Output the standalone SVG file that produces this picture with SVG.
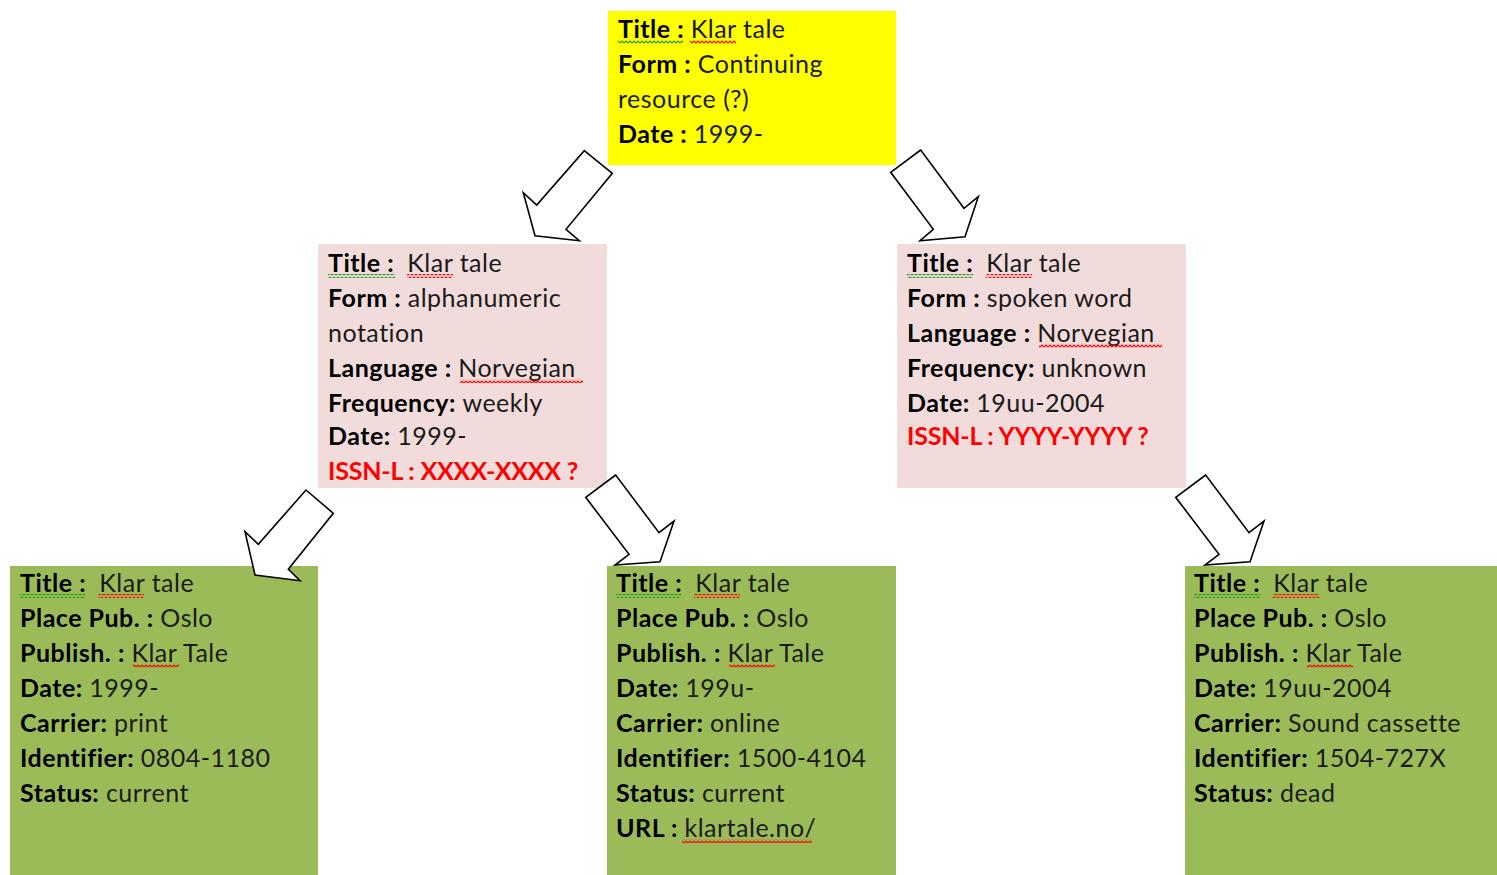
<svg xmlns="http://www.w3.org/2000/svg" width="1497" height="875" viewBox="0 0 1497 875">
<style>
text{font-family:Lato,"Open Sans","Liberation Sans",sans-serif;font-size:25px;letter-spacing:0.5px;fill:#1a1a1a}
.b{font-weight:bold;fill:#000}
.red{fill:#ff0000;font-weight:bold;letter-spacing:-0.2px}
.arrow{fill:#fff;stroke:#000;stroke-width:1.6;stroke-linejoin:miter}
.wg{fill:url(#wg)}
.wr{fill:url(#wr)}
</style>
<defs>
<pattern id="wg" patternUnits="userSpaceOnUse" width="4" height="4"><path d="M0 3 L2 1 L4 3" fill="none" stroke="#1f9a1f" stroke-width="1.2"/></pattern>
<pattern id="wr" patternUnits="userSpaceOnUse" width="4" height="4"><path d="M0 3 L2 1 L4 3" fill="none" stroke="#ff0000" stroke-width="1.2"/></pattern>
</defs>
<rect width="1497" height="875" fill="#fff"/>

<g id="top">
<rect x="608" y="11" width="288" height="154" fill="#ffff00"/>
<text x="618" y="38" xml:space="preserve"><tspan class="b">Title : </tspan>Klar tale</text>
<text x="618" y="73" xml:space="preserve"><tspan class="b">Form : </tspan>Continuing</text>
<text x="618" y="108">resource (?)</text>
<text x="618" y="143" xml:space="preserve"><tspan class="b">Date : </tspan>1999-</text>
<rect class="wg" x="618" y="40" width="65" height="4"/>
<rect class="wr" x="690" y="40" width="46" height="4"/>
</g>

<g id="mid-left">
<rect x="318" y="244" width="289" height="244" fill="#f2dcdb"/>
<text x="328" y="272" xml:space="preserve"><tspan class="b">Title :  </tspan>Klar tale</text>
<text x="328" y="307" xml:space="preserve"><tspan class="b">Form : </tspan>alphanumeric</text>
<text x="328" y="342">notation</text>
<text x="328" y="377" xml:space="preserve"><tspan class="b">Language : </tspan>Norvegian</text>
<text x="328" y="412" xml:space="preserve"><tspan class="b">Frequency: </tspan>weekly</text>
<text x="328" y="445" xml:space="preserve"><tspan class="b">Date: </tspan>1999-</text>
<text x="328" y="480" class="red">ISSN-L : XXXX-XXXX ?</text>
<rect class="wg" x="328" y="274" width="67" height="4"/>
<rect class="wr" x="407" y="274" width="46" height="4"/>
<rect class="wr" x="460" y="379" width="123" height="4"/>
</g>

<g id="mid-right">
<rect x="897" y="244" width="289" height="244" fill="#f2dcdb"/>
<text x="907" y="272" xml:space="preserve"><tspan class="b">Title :  </tspan>Klar tale</text>
<text x="907" y="307" xml:space="preserve"><tspan class="b">Form : </tspan>spoken word</text>
<text x="907" y="342" xml:space="preserve"><tspan class="b">Language : </tspan>Norvegian</text>
<text x="907" y="377" xml:space="preserve"><tspan class="b">Frequency: </tspan>unknown</text>
<text x="907" y="412" xml:space="preserve"><tspan class="b">Date: </tspan>19uu-2004</text>
<text x="907" y="445" class="red">ISSN-L : YYYY-YYYY ?</text>
<rect class="wg" x="907" y="274" width="66" height="4"/>
<rect class="wr" x="986" y="274" width="46" height="4"/>
<rect class="wr" x="1039" y="344" width="123" height="4"/>
</g>

<g id="bottom-left">
<rect x="10" y="566" width="308" height="309" fill="#9bbb59"/>
<text x="20" y="592" xml:space="preserve"><tspan class="b">Title :  </tspan>Klar tale</text>
<text x="20" y="627" xml:space="preserve"><tspan class="b">Place Pub. : </tspan>Oslo</text>
<text x="20" y="662" xml:space="preserve"><tspan class="b">Publish. : </tspan>Klar Tale</text>
<text x="20" y="697" xml:space="preserve"><tspan class="b">Date: </tspan>1999-</text>
<text x="20" y="732" xml:space="preserve"><tspan class="b">Carrier: </tspan>print</text>
<text x="20" y="767" xml:space="preserve"><tspan class="b">Identifier: </tspan>0804-1180</text>
<text x="20" y="802" xml:space="preserve"><tspan class="b">Status: </tspan>current</text>
<rect class="wg" x="20" y="594" width="65" height="4"/>
<rect class="wr" x="98" y="594" width="46" height="4"/>
<rect class="wr" x="133" y="664" width="46" height="4"/>
</g>

<g id="bottom-mid">
<rect x="607" y="566" width="289" height="309" fill="#9bbb59"/>
<text x="616" y="592" xml:space="preserve"><tspan class="b">Title :  </tspan>Klar tale</text>
<text x="616" y="627" xml:space="preserve"><tspan class="b">Place Pub. : </tspan>Oslo</text>
<text x="616" y="662" xml:space="preserve"><tspan class="b">Publish. : </tspan>Klar Tale</text>
<text x="616" y="697" xml:space="preserve"><tspan class="b">Date: </tspan>199u-</text>
<text x="616" y="732" xml:space="preserve"><tspan class="b">Carrier: </tspan>online</text>
<text x="616" y="767" xml:space="preserve"><tspan class="b">Identifier: </tspan>1500-4104</text>
<text x="616" y="802" xml:space="preserve"><tspan class="b">Status: </tspan>current</text>
<text x="616" y="837" xml:space="preserve"><tspan class="b">URL : </tspan>klartale.no/</text>
<rect class="wg" x="616" y="594" width="65" height="4"/>
<rect class="wr" x="694" y="594" width="46" height="4"/>
<rect class="wr" x="729" y="664" width="46" height="4"/>
<rect class="wr" x="682" y="839" width="130" height="4"/>
</g>

<g id="bottom-right">
<rect x="1185" y="566" width="312" height="309" fill="#9bbb59"/>
<text x="1194" y="592" xml:space="preserve"><tspan class="b">Title :  </tspan>Klar tale</text>
<text x="1194" y="627" xml:space="preserve"><tspan class="b">Place Pub. : </tspan>Oslo</text>
<text x="1194" y="662" xml:space="preserve"><tspan class="b">Publish. : </tspan>Klar Tale</text>
<text x="1194" y="697" xml:space="preserve"><tspan class="b">Date: </tspan>19uu-2004</text>
<text x="1194" y="732" xml:space="preserve"><tspan class="b">Carrier: </tspan>Sound cassette</text>
<text x="1194" y="767" xml:space="preserve"><tspan class="b">Identifier: </tspan>1504-727X</text>
<text x="1194" y="802" xml:space="preserve"><tspan class="b">Status: </tspan>dead</text>
<rect class="wg" x="1194" y="594" width="66" height="4"/>
<rect class="wr" x="1273" y="594" width="46" height="4"/>
<rect class="wr" x="1307" y="664" width="46" height="4"/>
</g>

<g id="connectors">
<polygon class="arrow" points="584.3,150.7 612.3,173.3 566,229.3 579.3,240.7 535,235.7 523.3,192.7 536.7,205"/>
<polygon class="arrow" points="920.7,150 890.7,172.3 933.3,229.3 920,240.7 965,236.7 978.3,196.7 964,208.3"/>
<polygon class="arrow" points="306,490 333.3,513.3 288.3,569.3 300,580.7 255,575 245,531.7 258.3,544.3"/>
<polygon class="arrow" points="615.7,475 585.7,497.3 629,554.3 615,565 660,561.7 674,521 659,532.7"/>
<polygon class="arrow" points="1205.7,475 1175.7,497.3 1219,554.3 1205,565 1250,561.7 1264,521 1249,532.7"/>
</g>
</svg>
